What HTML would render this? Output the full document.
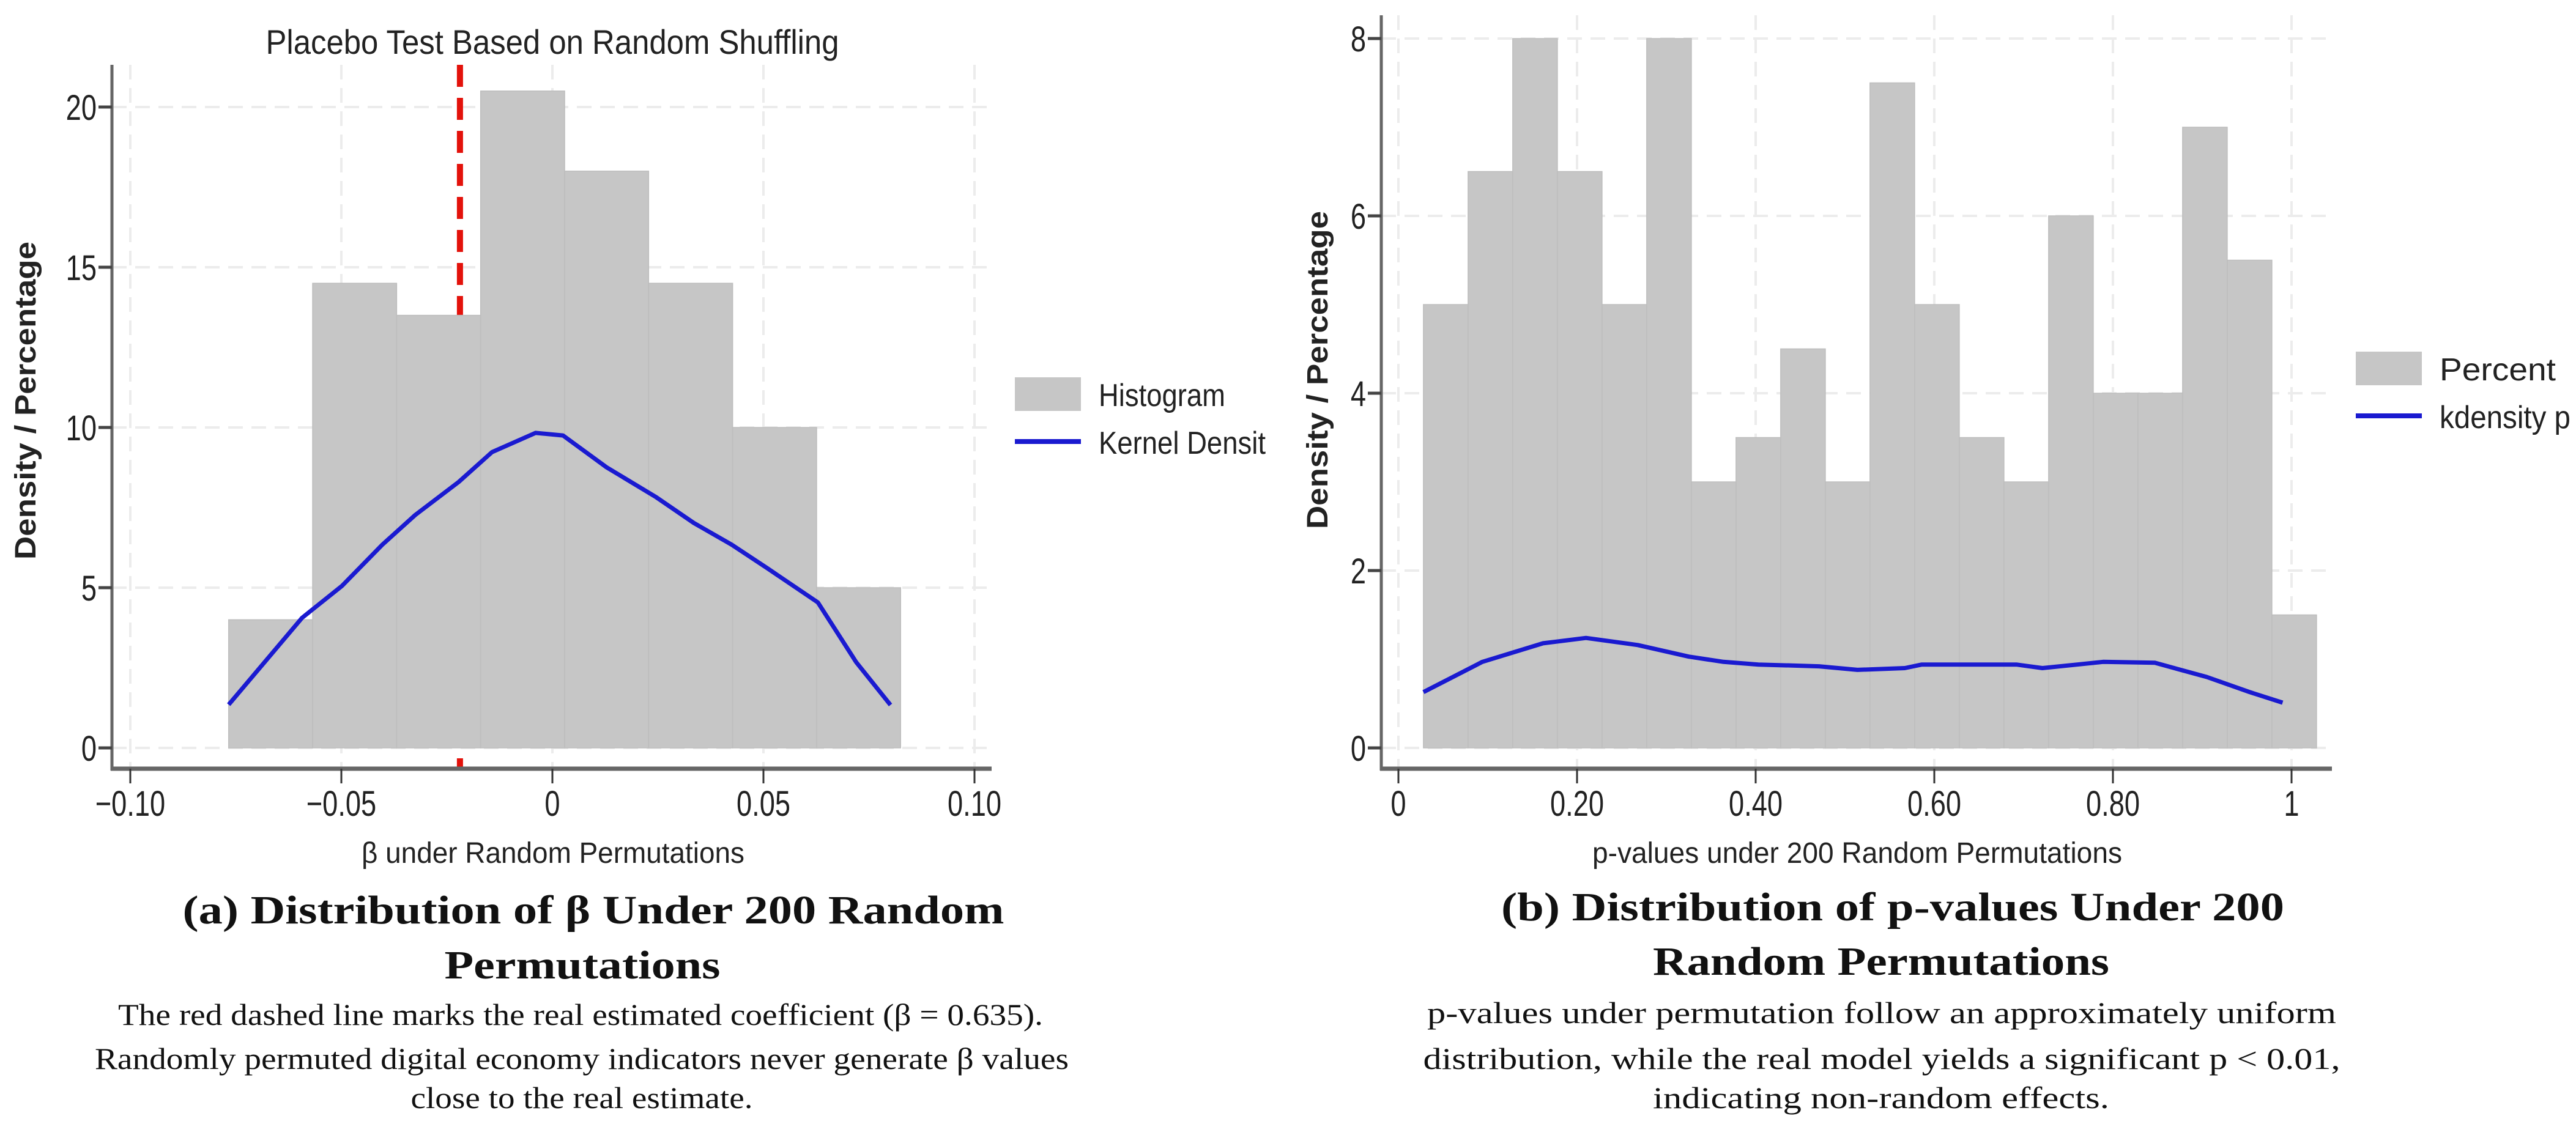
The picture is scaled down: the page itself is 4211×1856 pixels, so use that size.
<!DOCTYPE html>
<html><head><meta charset="utf-8"><style>
html,body{margin:0;padding:0;background:#fff;}
svg{display:block;}
text{font-family:"Liberation Sans",sans-serif;fill:#222;}
.serif{font-family:"Liberation Serif",serif;fill:#111;}
</style></head><body>
<svg id="fig" width="4211" height="1856" viewBox="0 0 4211 1856" xmlns="http://www.w3.org/2000/svg">
<g id="left"></g>
<g id="right"></g>
<g>
<text class="serif" x="970" y="1510" font-size="66" font-weight="bold" text-anchor="middle" textLength="1343" lengthAdjust="spacingAndGlyphs">(a)  Distribution of β Under 200 Random</text>
<text class="serif" x="952" y="1600" font-size="66" font-weight="bold" text-anchor="middle" textLength="451" lengthAdjust="spacingAndGlyphs">Permutations</text>
<text class="serif" x="949" y="1676" font-size="50" text-anchor="middle" textLength="1512" lengthAdjust="spacingAndGlyphs">The red dashed line marks the real estimated coefficient (β = 0.635).</text>
<text class="serif" x="951" y="1748" font-size="50" text-anchor="middle" textLength="1592" lengthAdjust="spacingAndGlyphs">Randomly permuted digital economy indicators never generate β values</text>
<text class="serif" x="951" y="1812" font-size="50" text-anchor="middle" textLength="559" lengthAdjust="spacingAndGlyphs">close to the real estimate.</text>
</g>
<g>
<text class="serif" x="3094" y="1505" font-size="66" font-weight="bold" text-anchor="middle" textLength="1280" lengthAdjust="spacingAndGlyphs">(b)  Distribution of p-values Under 200</text>
<text class="serif" x="3075" y="1594" font-size="66" font-weight="bold" text-anchor="middle" textLength="746" lengthAdjust="spacingAndGlyphs">Random Permutations</text>
<text class="serif" x="3076" y="1673" font-size="50" text-anchor="middle" textLength="1486" lengthAdjust="spacingAndGlyphs">p-values under permutation follow an approximately uniform</text>
<text class="serif" x="3076" y="1748" font-size="50" text-anchor="middle" textLength="1499" lengthAdjust="spacingAndGlyphs">distribution, while the real model yields a significant p &lt; 0.01,</text>
<text class="serif" x="3075" y="1812" font-size="50" text-anchor="middle" textLength="746" lengthAdjust="spacingAndGlyphs">indicating non-random effects.</text>
</g>
</svg>
<script>
// ---- Chart A data ----
const betaBinStart = -0.0767;
const betaBinWidth = 0.0199;
const betaBarHeights = [4, 14.5, 13.5, 20.5, 18, 14.5, 10, 5];
const betaKdeX = [-0.0767, -0.0593, -0.0499, -0.0403, -0.0325, -0.0222, -0.0143, -0.004, 0.0025, 0.0128, 0.0244, 0.0335, 0.0425, 0.0510, 0.0629, 0.072, 0.0801];
const betaKdeY = [1.35, 4.06, 5.05, 6.34, 7.27, 8.3, 9.23, 9.83, 9.75, 8.76, 7.84, 7.02, 6.34, 5.6, 4.54, 2.67, 1.34];
const betaXTicks = [-0.10, -0.05, 0, 0.05, 0.10];
const betaXTickLabels = ["−0.10", "−0.05", "0", "0.05", "0.10"];
const betaYTicks = [0, 5, 10, 15, 20];
const realBeta = -0.0219;
// ---- Chart B data ----
const pBinStart = 0.028;
const pBinWidth = 0.05;
const pBarHeights = [5, 6.5, 8, 6.5, 5, 8, 3, 3.5, 4.5, 3, 7.5, 5, 3.5, 3, 6, 4, 4, 7, 5.5, 1.5];
const pKdeX = [0.028, 0.094, 0.162, 0.21, 0.268, 0.325, 0.364, 0.403, 0.471, 0.514, 0.567, 0.586, 0.692, 0.721, 0.76, 0.789, 0.847, 0.905, 0.953, 0.99];
const pKdeY = [0.63, 0.97, 1.18, 1.24, 1.16, 1.03, 0.97, 0.94, 0.92, 0.88, 0.90, 0.94, 0.94, 0.90, 0.94, 0.97, 0.96, 0.80, 0.63, 0.51];
const pXTicks = [0, 0.2, 0.4, 0.6, 0.8, 1];
const pXTickLabels = ["0", "0.20", "0.40", "0.60", "0.80", "1"];
const pYTicks = [0, 2, 4, 6, 8];

const NS = "http://www.w3.org/2000/svg";
function mk(parent, tag, attrs) {
  const e = document.createElementNS(NS, tag);
  for (const k in attrs) e.setAttribute(k, attrs[k]);
  parent.appendChild(e);
  return e;
}
function txt(parent, x, y, s, size, anchor, sx) {
  const g = mk(parent, "g", {transform: "scale(" + sx + ",1)"});
  const t = mk(g, "text", {x: x / sx, y: y, "font-size": size, "text-anchor": anchor});
  t.textContent = s;
  return t;
}

function drawChart(root, cfg) {
  const xs = v => cfg.x0px + (v - cfg.x0) * cfg.xk;
  const ys = v => cfg.y0px - v * cfg.yk;
  cfg.xTicks.forEach(v => {
    const l = mk(root, "line", {x1: xs(v), x2: xs(v), y1: cfg.top, y2: cfg.axisY, stroke: "#ececec", "stroke-width": 4, "stroke-dasharray": "24 14"});
    
    
  });
  cfg.yTicks.forEach(v => {
    const l = mk(root, "line", {x1: cfg.axisX, x2: cfg.right, y1: ys(v), y2: ys(v), stroke: "#ececec", "stroke-width": 4, "stroke-dasharray": "24 14"});
    
    
  });
  if (cfg.preBars) cfg.preBars(xs, ys);
  cfg.bars.forEach((h, i) => {
    const a = cfg.binStart + i * cfg.binWidth;
    const r = mk(root, "rect", {x: xs(a), y: ys(h), width: xs(a + cfg.binWidth) - xs(a), height: ys(0) - ys(h), fill: "#c6c6c6", stroke: "#bdbdbd", "stroke-width": 1.5});
    
    
  });
  const d = cfg.kx.map((v, i) => (i ? "L" : "M") + xs(v).toFixed(1) + "," + ys(cfg.ky[i]).toFixed(1)).join(" ");
  const p = mk(root, "path", {d: d, fill: "none", stroke: "#1a1ad0", "stroke-width": 7, "stroke-linejoin": "round"});
  
  
  const ya = mk(root, "line", {x1: cfg.axisX, x2: cfg.axisX, y1: cfg.top, y2: cfg.axisY + 3, stroke: "#666", "stroke-width": 5});
  
  
  const xa = mk(root, "line", {x1: cfg.axisX - 2, x2: cfg.right, y1: cfg.axisY, y2: cfg.axisY, stroke: "#666", "stroke-width": 7});
  
  
  cfg.xTicks.forEach((v, i) => {
    mk(root, "line", {x1: xs(v), x2: xs(v), y1: cfg.axisY, y2: cfg.axisY + 24, stroke: "#333", "stroke-width": 3});
    const t = txt(root, xs(v), cfg.axisY + 77, cfg.xLabels[i], 58, "middle", 0.78);
    
    
  });
  cfg.yTicks.forEach(v => {
    mk(root, "line", {x1: cfg.axisX - 22, x2: cfg.axisX, y1: ys(v), y2: ys(v), stroke: "#444", "stroke-width": 5});
    const t = txt(root, cfg.axisX - 25, ys(v) + 21, String(v), 58, "end", 0.78);
    
    
  });
  const xt = mk(root, "text", {x: cfg.xTitleX, y: 1411, "font-size": 48, "text-anchor": "middle", textLength: cfg.xTitleW, lengthAdjust: "spacingAndGlyphs", fill: "#333"});
  xt.textContent = cfg.xTitle;
  
  
  const yt = mk(root, "text", {x: 0, y: 0, "font-size": 48, "text-anchor": "middle", "font-weight": "bold", fill: "#333", textLength: 520, lengthAdjust: "spacingAndGlyphs", transform: "translate(" + cfg.yTitleX + "," + cfg.yTitleY + ") rotate(-90)"});
  yt.textContent = "Density / Percentage";
  
  
  const sw = mk(root, "rect", {x: cfg.legX, y: cfg.legY - 28, width: 108, height: 55, fill: "#c6c6c6"});
  
  
  const l1 = mk(root, "text", {x: cfg.legX + 137, y: cfg.legY + 19, "font-size": 52, textLength: cfg.leg1W, lengthAdjust: "spacingAndGlyphs"});
  l1.textContent = cfg.leg1;
  
  
  const ll = mk(root, "line", {x1: cfg.legX, x2: cfg.legX + 108, y1: cfg.legY + 77, y2: cfg.legY + 77, stroke: "#1a1ad0", "stroke-width": 8});
  
  
  const l2 = mk(root, "text", {x: cfg.legX + 137, y: cfg.legY + 97, "font-size": 52, textLength: cfg.leg2W, lengthAdjust: "spacingAndGlyphs"});
  l2.textContent = cfg.leg2;
  
  
  return {xs, ys};
}

const L = document.getElementById("left");
drawChart(L, {
  x0: -0.1, x0px: 213, xk: 6900, y0px: 1223, yk: 52.4,
  top: 106, axisX: 183, axisY: 1257, right: 1621,
  xTicks: betaXTicks, xLabels: betaXTickLabels, yTicks: betaYTicks,
  bars: betaBarHeights, binStart: betaBinStart, binWidth: betaBinWidth,
  kx: betaKdeX, ky: betaKdeY,
  xTitle: "β under Random Permutations", xTitleX: 904, xTitleW: 626,
  yTitleX: 58, yTitleY: 655,
  legX: 1659, legY: 645, leg1: "Histogram", leg1W: 207, leg2: "Kernel Densit", leg2W: 273,
  preBars: function (xs, ys) {
    const rl = mk(L, "line", {x1: xs(realBeta), x2: xs(realBeta), y1: 106, y2: 1258, stroke: "#e3120b", "stroke-width": 10, "stroke-dasharray": "36 18"});
    
    
  }
});
const title = mk(L, "text", {x: 903, y: 88, "font-size": 56, "text-anchor": "middle", textLength: 937, lengthAdjust: "spacingAndGlyphs"});
title.textContent = "Placebo Test Based on Random Shuffling";



const R = document.getElementById("right");
drawChart(R, {
  x0: 0, x0px: 2286, xk: 1460, y0px: 1223, yk: 145,
  top: 25, axisX: 2258, axisY: 1257, right: 3812,
  xTicks: pXTicks, xLabels: pXTickLabels, yTicks: pYTicks,
  bars: pBarHeights, binStart: pBinStart, binWidth: pBinWidth,
  kx: pKdeX, ky: pKdeY,
  xTitle: "p-values under 200 Random Permutations", xTitleX: 3036, xTitleW: 866,
  yTitleX: 2170, yTitleY: 605,
  legX: 3851, legY: 603, leg1: "Percent", leg1W: 190, leg2: "kdensity p", leg2W: 214
});
</script>
</body></html>
